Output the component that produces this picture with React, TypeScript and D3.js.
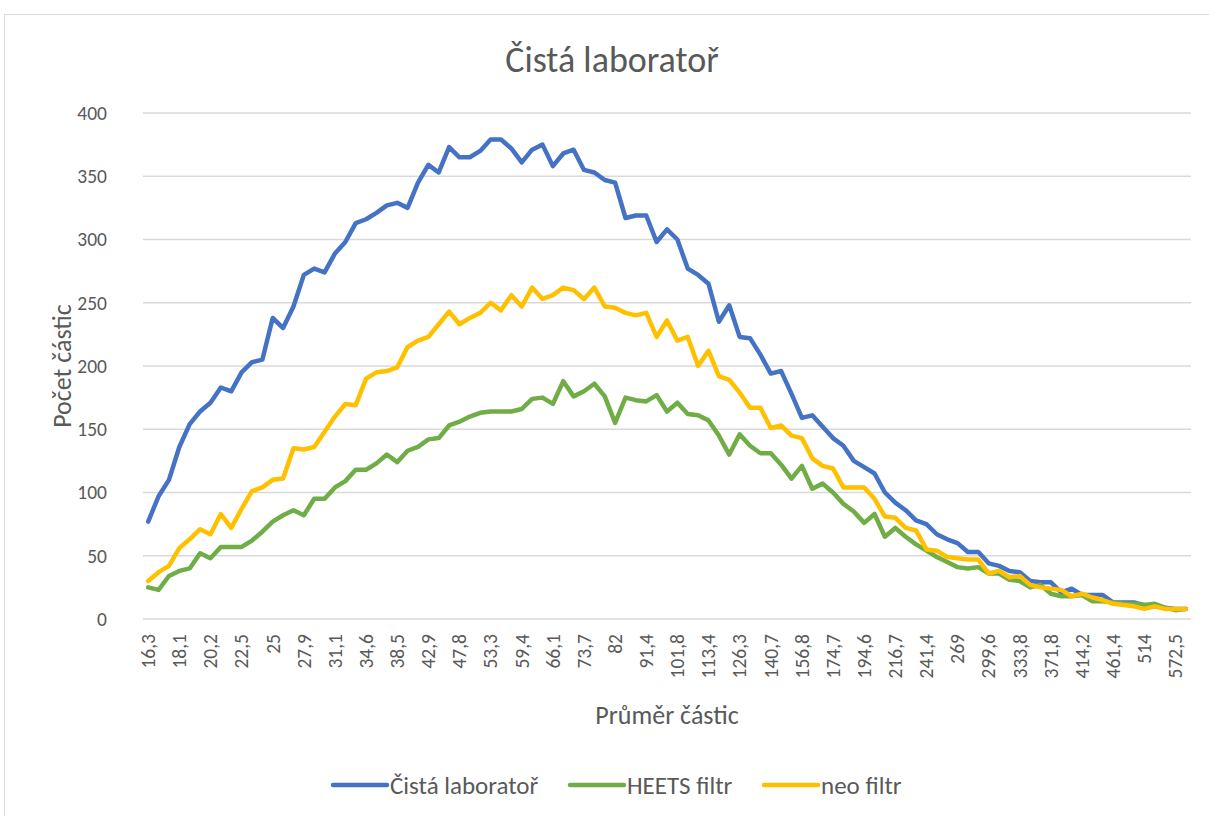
import React from "react";
import * as d3 from "d3";

const diameters = [
  "16,3", "16,8", "17,5", "18,1", "18,8", "19,5", "20,2", "20,9", "21,7", "22,5",
  "23,3", "24,1", "25", "25,9", "26,9", "27,9", "28,9", "30", "31,1", "32,2",
  "33,4", "34,6", "35,9", "37,2", "38,5", "40", "41,4", "42,9", "44,5", "46,1",
  "47,8", "49,6", "51,4", "53,3", "55,2", "57,3", "59,4", "61,5", "63,8", "66,1",
  "68,5", "71", "73,7", "76,4", "79,1", "82", "85,1", "88,2", "91,4", "94,7",
  "98,2", "101,8", "105,5", "109,4", "113,4", "117,6", "121,9", "126,3", "131", "135,8",
  "140,7", "145,9", "151,2", "156,8", "162,5", "168,5", "174,7", "181,1", "187,7", "194,6",
  "201,7", "209,1", "216,7", "224,7", "232,9", "241,4", "250,3", "259,5", "269", "278,8",
  "289", "299,6", "310,6", "322", "333,8", "346", "358,7", "371,8", "385,4", "399,5",
  "414,2", "429,4", "445,1", "461,4", "478,3", "495,8", "514", "532,8", "552,3", "572,5",
  "593,5",
];

const cistaLab = [
  77, 97, 110, 136, 154, 164, 171, 183, 180, 195,
  203, 205, 238, 230, 247, 272, 277, 274, 289, 298,
  313, 316, 321, 327, 329, 325, 345, 359, 353, 373,
  365, 365, 370, 379, 379, 372, 361, 371, 375, 358,
  368, 371, 355, 353, 347, 345, 317, 319, 319, 298,
  308, 300, 277, 272, 265, 235, 248, 223, 222, 209,
  194, 196, 178, 159, 161, 152, 143, 137, 125, 120,
  115, 100, 92, 86, 78, 75, 67, 63, 60, 53,
  53, 44, 42, 38, 37, 30, 29, 29, 21, 24,
  19, 19, 19, 13, 13, 13, 11, 10, 9, 8,
  8,
];

const heetsFiltr = [
  25, 23, 34, 38, 40, 52, 48, 57, 57, 57,
  62, 69, 77, 82, 86, 82, 95, 95, 104, 109,
  118, 118, 123, 130, 124, 133, 136, 142, 143, 153,
  156, 160, 163, 164, 164, 164, 166, 174, 175, 170,
  188, 176, 180, 186, 176, 155, 175, 173, 172, 177,
  164, 171, 162, 161, 157, 145, 130, 146, 137, 131,
  131, 122, 111, 121, 103, 107, 100, 91, 85, 76,
  83, 65, 72, 65, 59, 54, 49, 45, 41, 40,
  41, 36, 36, 31, 30, 25, 27, 20, 18, 18,
  19, 14, 14, 13, 12, 12, 11, 12, 9, 7,
  8,
];

const neoFiltr = [
  30, 37, 42, 56, 63, 71, 67, 83, 72, 87,
  101, 104, 110, 111, 135, 134, 136, 148, 160, 170,
  169, 190, 195, 196, 199, 215, 220, 223, 233, 243,
  233, 238, 242, 250, 244, 256, 247, 262, 253, 256,
  262, 260, 253, 262, 247, 246, 242, 240, 242, 223,
  236, 220, 223, 200, 212, 192, 189, 179, 167, 167,
  151, 153, 145, 143, 127, 121, 119, 104, 104, 104,
  95, 81, 80, 72, 70, 55, 54, 49, 48, 47,
  47, 36, 38, 33, 34, 27, 25, 24, 23, 18,
  20, 17, 15, 12, 11, 10, 8, 10, 8, 8,
  8,
];

const yTicks = [0, 50, 100, 150, 200, 250, 300, 350, 400];

const series = [
  { name: "Čistá laboratoř", values: cistaLab, color: "#4472C4" },
  { name: "HEETS filtr", values: heetsFiltr, color: "#70AD47" },
  { name: "neo filtr", values: neoFiltr, color: "#FFC000" },
];

const W = 1209;
const H = 816;
const left = 143;
const right = 1191;
const top = 113;
const bottom = 619;
const font = "Carlito, Calibri, Lato, sans-serif";
const textColor = "#595959";

export default function App() {
  const x = d3
    .scaleBand<number>()
    .domain(diameters.map((_, i) => i))
    .range([left, right]);
  const cx = (i: number) => (x(i) ?? 0) + x.bandwidth() / 2;
  const y = d3.scaleLinear().domain([0, 400]).range([bottom, top]);

  const line = d3
    .line<number>()
    .x((_, i) => cx(i))
    .y((d) => y(d));

  // legend sample starts
  const legendX = [333, 570, 764];

  return (
    <svg
      width={W}
      height={H}
      style={{ position: "absolute", left: 0, top: 0, background: "#fff" }}
      fontFamily={font}
    >
      <rect x={0} y={0} width={W} height={H} fill="#fff" />
      <rect x={4.5} y={14.5} width={1220} height={820} fill="none" stroke="#D9D9D9" />

      <text x={612} y={72} textAnchor="middle" fontSize={36} fill={textColor}>
        Čistá laboratoř
      </text>

      {/* gridlines + y labels */}
      {yTicks.map((t) => (
        <g key={t}>
          <line x1={left} x2={right} y1={y(t)} y2={y(t)} stroke="#D9D9D9" strokeWidth={1.5} />
          <text
            x={107}
            y={y(t)}
            dy="0.35em"
            textAnchor="end"
            fontSize={19.5}
            fill={textColor}
          >
            {t}
          </text>
        </g>
      ))}

      {/* x labels, every third category */}
      {diameters.map((d, i) =>
        i % 3 === 0 ? (
          <text
            key={d}
            transform={`translate(${cx(i)},634) rotate(-90)`}
            dy="0.35em"
            textAnchor="end"
            fontSize={19.5}
            fill={textColor}
          >
            {d}
          </text>
        ) : null
      )}

      {series.map((s) => (
        <path
          key={s.name}
          d={line(s.values) ?? ""}
          fill="none"
          stroke={s.color}
          strokeWidth={4.5}
          strokeLinejoin="round"
          strokeLinecap="round"
        />
      ))}

      <text
        transform={`translate(62,366) rotate(-90)`}
        dy="0.35em"
        textAnchor="middle"
        fontSize={26}
        fill={textColor}
      >
        Počet částic
      </text>
      <text x={(left + right) / 2} y={724} textAnchor="middle" fontSize={26} fill={textColor}>
        Průměr částic
      </text>

      {series.map((s, i) => (
        <g key={s.name}>
          <line
            x1={legendX[i]}
            x2={legendX[i] + 54}
            y1={785}
            y2={785}
            stroke={s.color}
            strokeWidth={4.5}
            strokeLinecap="round"
          />
          <text x={legendX[i] + 57} y={785} dy="0.35em" fontSize={25} fill={textColor}>
            {s.name}
          </text>
        </g>
      ))}
    </svg>
  );
}
